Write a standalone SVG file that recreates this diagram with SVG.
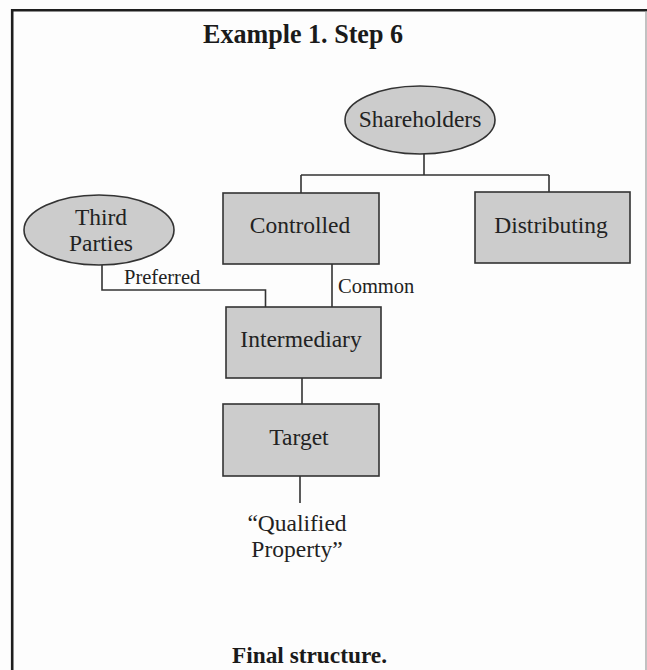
<svg xmlns="http://www.w3.org/2000/svg" width="647" height="670" viewBox="0 0 647 670">
  <style>
    .box { fill: #cccccc; stroke: #333333; stroke-width: 1.6; }
    .wire { fill: none; stroke: #333333; stroke-width: 1.6; }
    .lbl { font-family: "Liberation Serif", "Times New Roman", serif; font-size: 23.5px; fill: #222222; text-anchor: middle; }
    .edge { font-family: "Liberation Serif", "Times New Roman", serif; font-size: 20.5px; fill: #222222; }
    .head { font-family: "Liberation Serif", "Times New Roman", serif; font-weight: bold; fill: #1a1a1a; }
  </style>
  <rect x="0" y="0" width="647" height="670" fill="#fdfdfd"/>
  <!-- frame -->
  <path d="M12.2 672 V10.2 H648" fill="none" stroke="#1e1e1e" stroke-width="2.6"/>
  <line x1="646" y1="11" x2="646" y2="670" stroke="#9a9a9a" stroke-width="1.2"/>

  <text class="head" x="303" y="43" font-size="28" text-anchor="middle" textLength="200" lengthAdjust="spacingAndGlyphs">Example 1. Step 6</text>

  <g id="connectors">
    <path class="wire" d="M424 154 V175 M301 175 H549 M301 175 V193 M549 175 V192"/>
    <path class="wire" d="M332 264 V307"/>
    <path class="wire" d="M102 265 V290 H265.5 V307"/>
    <path class="wire" d="M302 378 V404"/>
    <path class="wire" d="M300 476 V503"/>
    <text class="edge" x="124" y="284">Preferred</text>
    <text class="edge" x="338" y="293">Common</text>
  </g>

  <g id="shareholders">
    <ellipse class="box" cx="420" cy="120" rx="75" ry="34"/>
    <text class="lbl" x="420" y="127">Shareholders</text>
  </g>
  <g id="third-parties">
    <ellipse class="box" cx="99" cy="230" rx="75" ry="35"/>
    <text class="lbl" x="101" y="225">Third</text>
    <text class="lbl" x="101" y="251">Parties</text>
  </g>
  <g id="controlled">
    <rect class="box" x="223" y="193" width="156" height="71"/>
    <text class="lbl" x="300" y="233">Controlled</text>
  </g>
  <g id="distributing">
    <rect class="box" x="475" y="192" width="155" height="71"/>
    <text class="lbl" x="551" y="233">Distributing</text>
  </g>
  <g id="intermediary">
    <rect class="box" x="226" y="307" width="155" height="71"/>
    <text class="lbl" x="301" y="347">Intermediary</text>
  </g>
  <g id="target">
    <rect class="box" x="223" y="404" width="156" height="72"/>
    <text class="lbl" x="299" y="445">Target</text>
  </g>
  <g id="qualified-property">
    <text class="lbl" x="297" y="531">“Qualified</text>
    <text class="lbl" x="297" y="557">Property”</text>
  </g>

  <text class="head" x="309.5" y="663" font-size="24" text-anchor="middle" textLength="155" lengthAdjust="spacingAndGlyphs">Final structure.</text>
</svg>
